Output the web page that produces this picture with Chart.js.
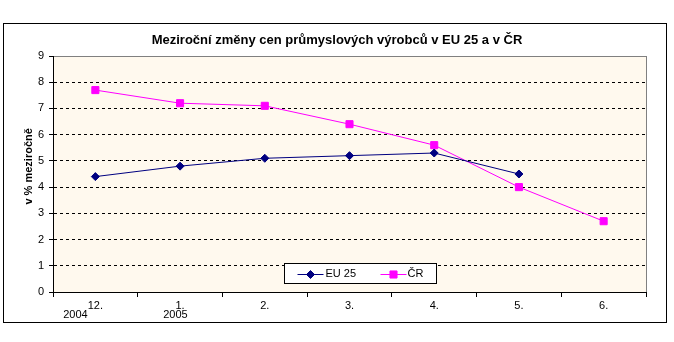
<!DOCTYPE html>
<html>
<head>
<meta charset="utf-8">
<script src="https://cdn.jsdelivr.net/npm/chart.js@4/dist/chart.umd.min.js"></script>
<style>
  html, body { margin: 0; padding: 0; background: #fff; }
  #wrap { width: 674px; height: 342px; }
</style>
</head>
<body>
<div id="wrap"><canvas id="chart"></canvas></div>
<script>
const months = ["12.", "1.", "2.", "3.", "4.", "5.", "6."];
const years = ["2004", "2005", "", "", "", "", ""];
const eu25 = [4.4, 4.8, 5.1, 5.2, 5.3, 4.5, null];
const cr = [7.7, 7.2, 7.1, 6.4, 5.6, 4.0, 2.7];
const yTicks = [0, 1, 2, 3, 4, 5, 6, 7, 8, 9];

// years sit a bit left of the month label, as in the original
const yearPad = [13, 3, 0, 0, 0, 0, 0];
const labels = months.map((m, i) => years[i] ? [m, years[i] + " ".repeat(yearPad[i])] : m);

Chart.defaults.font.family = "'Liberation Sans', Arial, sans-serif";
Chart.defaults.color = "#000";

const frame = {
  id: "frame",
  beforeDraw(chart) {
    const { ctx, chartArea: a } = chart;
    ctx.save();
    ctx.fillStyle = "#fff";
    ctx.fillRect(0, 0, chart.width, chart.height);
    ctx.strokeStyle = "#000";
    ctx.lineWidth = 1;
    ctx.strokeRect(3.5, 23.5, 663, 299);
    ctx.fillStyle = "#FFF9EE";
    ctx.fillRect(a.left, a.top, a.right - a.left, a.bottom - a.top);
    ctx.strokeStyle = "#808080";
    ctx.strokeRect(a.left + 0.5, a.top + 0.5, a.right - a.left, a.bottom - a.top);
    ctx.restore();
  }
};

const boxLegend = {
  id: "boxLegend",
  afterDraw(chart) {
    const { ctx, chartArea: a } = chart;
    const x0 = a.left + 231.5, y0 = a.bottom - 28.5, w = 152, h = 20;
    const cy = y0 + h / 2;
    ctx.save();
    ctx.fillStyle = "#fff";
    ctx.fillRect(x0, y0, w, h);
    ctx.strokeStyle = "#000";
    ctx.lineWidth = 1;
    ctx.strokeRect(x0, y0, w, h);
    const items = [
      { ds: chart.data.datasets[0], lx: x0 + 13, tx: x0 + 41 },
      { ds: chart.data.datasets[1], lx: x0 + 96, tx: x0 + 123 }
    ];
    ctx.font = "11px 'Liberation Sans', Arial, sans-serif";
    ctx.textBaseline = "middle";
    items.forEach(it => {
      ctx.strokeStyle = it.ds.borderColor;
      ctx.beginPath();
      ctx.moveTo(it.lx, Math.round(cy) + 0.5);
      ctx.lineTo(it.lx + 26, Math.round(cy) + 0.5);
      ctx.stroke();
      ctx.fillStyle = it.ds.backgroundColor;
      Chart.helpers.drawPoint(ctx, {
        pointStyle: it.ds.pointStyle,
        radius: it.ds.pointRadius,
        borderWidth: 1
      }, it.lx + 13, Math.round(cy) + 0.5);
      ctx.fillStyle = "#000";
      ctx.fillText(it.ds.label, it.tx, cy + 0.5);
    });
    ctx.restore();
  }
};

new Chart(document.getElementById("chart"), {
  type: "line",
  data: {
    labels: labels,
    datasets: [
      {
        label: "EU 25",
        data: eu25,
        borderColor: "#000080",
        backgroundColor: "#000080",
        borderWidth: 1,
        pointStyle: "rectRot",
        pointRadius: 4,
        pointBorderWidth: 1,
        tension: 0
      },
      {
        label: "ČR",
        data: cr,
        borderColor: "#FF00FF",
        backgroundColor: "#FF00FF",
        borderWidth: 1,
        pointStyle: "rect",
        pointRadius: 5,
        pointBorderWidth: 1,
        tension: 0
      }
    ]
  },
  options: {
    responsive: true,
    maintainAspectRatio: false,
    animation: false,
    layout: { padding: 0 },
    plugins: {
      legend: { display: false },
      tooltip: { enabled: false },
      title: {
        display: true,
        text: "Meziroční změny cen průmyslových výrobců v EU 25 a v ČR",
        color: "#000",
        font: { size: 13, weight: "bold" },
        padding: { top: 32.2, bottom: 8.2 }
      }
    },
    scales: {
      x: {
        offset: true,
        afterFit: (s) => { s.height = 50; },
        border: { color: "#000", width: 1 },
        grid: {
          offset: true,
          drawOnChartArea: false,
          tickLength: 5,
          tickColor: "#000"
        },
        ticks: {
          color: "#000",
          font: { size: 11, lineHeight: 0.86 },
          padding: 4,
          maxRotation: 0,
          autoSkip: false
        }
      },
      y: {
        min: 0,
        max: 9,
        afterFit: (s) => { s.width = 53; },
        afterBuildTicks: (s) => { s.ticks = yTicks.map(v => ({ value: v })); },
        border: { color: "#000", width: 1, dash: [3, 3] },
        grid: {
          color: (c) => (c.tick && (c.tick.value === 0 || c.tick.value === 9)) ? "rgba(0,0,0,0)" : "#000",
          tickBorderDash: [],
          tickColor: "#000",
          tickLength: 4
        },
        ticks: {
          color: "#000",
          font: { size: 11 },
          padding: 5
        },
        title: {
          display: true,
          text: "     v % meziročně",
          color: "#000",
          font: { size: 11, weight: "bold" },
          padding: { top: 22.4, bottom: 0 }
        }
      },
      // empty right-hand spacer so the title stays centred on the whole frame
      yRight: {
        position: "right",
        min: 0,
        max: 9,
        afterFit: (s) => { s.width = 28; },
        border: { display: false },
        grid: { display: false },
        ticks: { display: false }
      }
    }
  },
  plugins: [frame, boxLegend]
});
</script>
</body>
</html>
